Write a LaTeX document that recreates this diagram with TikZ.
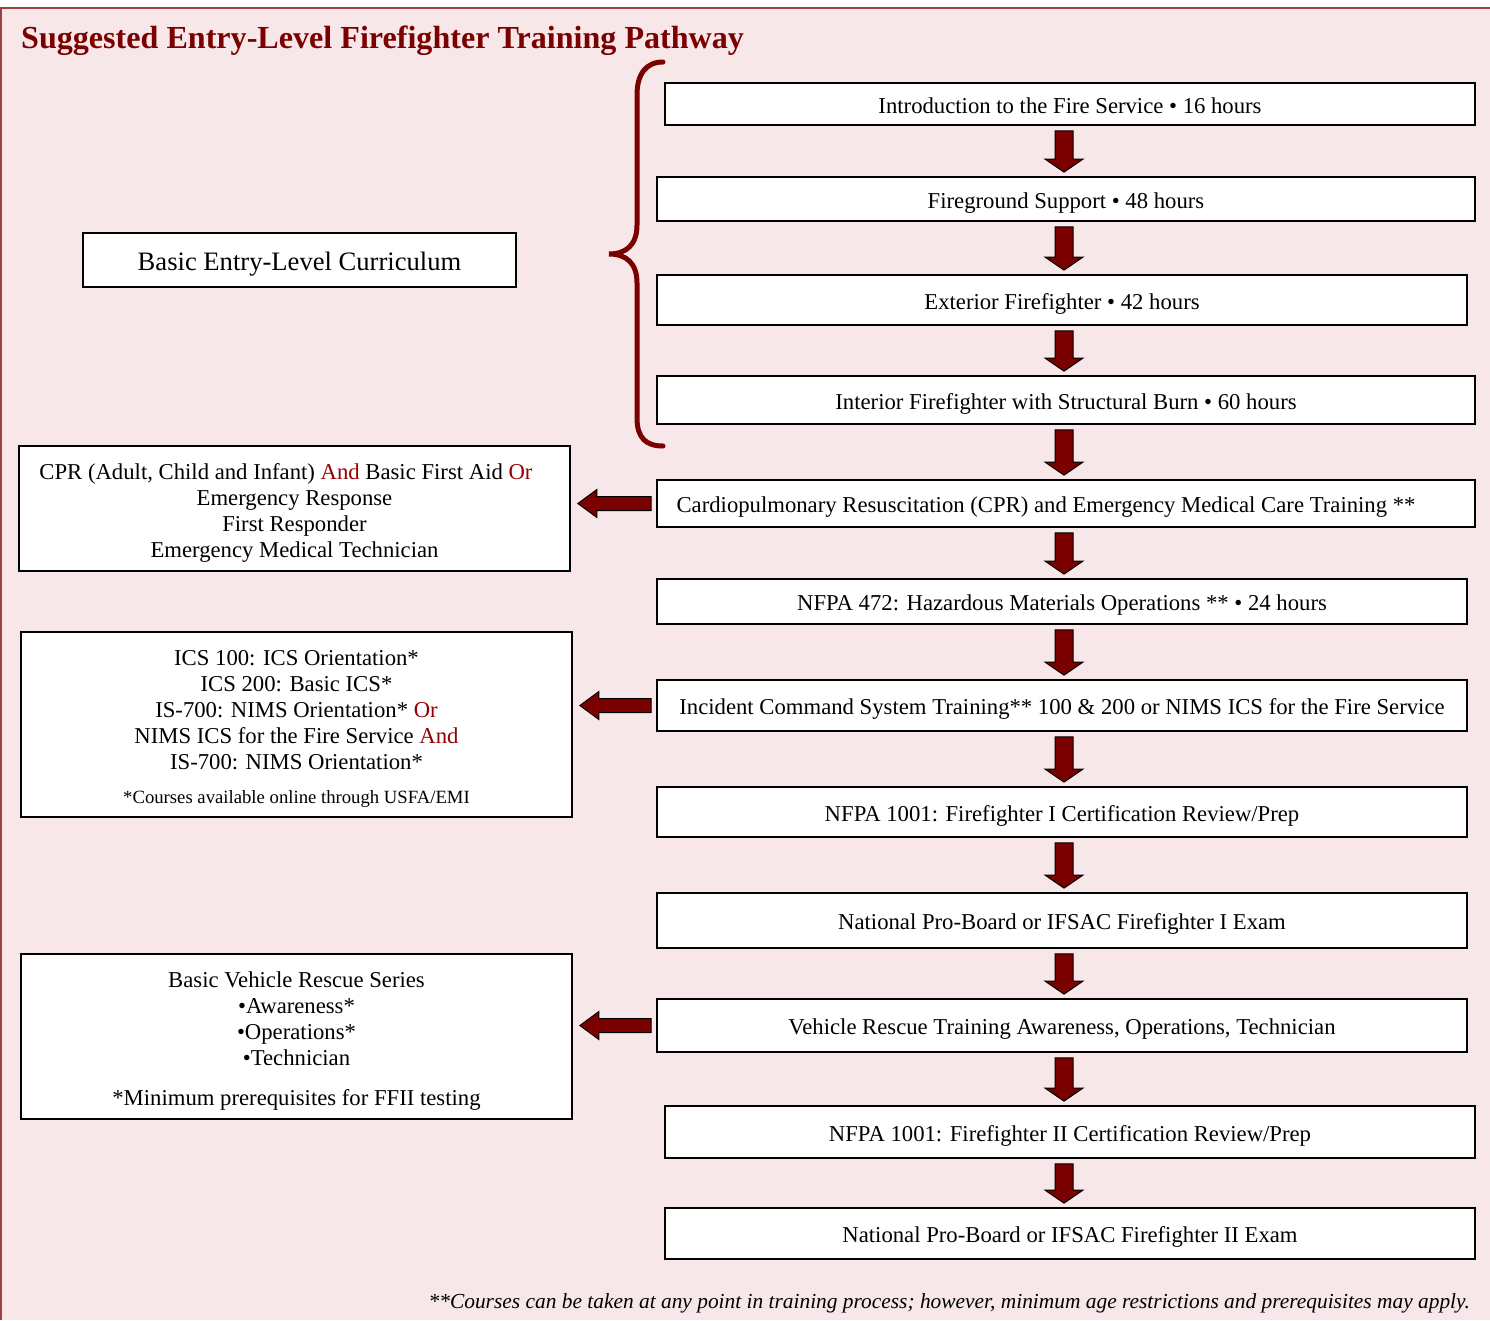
\documentclass[tikz,border=0pt]{standalone}
\usepackage{fontspec}
\setmainfont{Liberation Serif}
\usetikzlibrary{calc}
\definecolor{bg}{HTML}{F7E7E8}
\definecolor{framec}{HTML}{A04040}
\definecolor{dred}{HTML}{7B0000}
\definecolor{tred}{HTML}{960000}
\newcommand\rd[1]{\textcolor{tred}{#1}}
\newcommand\tstr{\rule{0pt}{24pt}}
\newcommand\bstr{\rule[-5pt]{0pt}{5pt}}
\newcommand\fb[7][]{\node[fbox,#1,minimum width={#5-#3},minimum height={#6-#4}] (#2) at ({(#3+#5)/2},{(#4+#6)/2}) {#7};}
\newcommand\darr[2]{\path[arr] let \p1=(#1.south), \p2=(#2.north) in
  (1055pt,\y1-5pt) -- (1073pt,\y1-5pt) -- (1073pt,\y2+17pt) -- (1083pt,\y2+17pt) --
  (1064pt,\y2+4pt) -- (1045pt,\y2+17pt) -- (1055pt,\y2+17pt) -- cycle;}
\newcommand\larr[2]{\path[arr] let \p1=(#1.west), \p2=(#2.east) in
  (\x1-5pt,\y1+7pt) -- (\x2+26pt,\y1+7pt) -- (\x2+26pt,\y1+14pt) -- (\x2+7pt,\y1) --
  (\x2+26pt,\y1-14pt) -- (\x2+26pt,\y1-7pt) -- (\x1-5pt,\y1-7pt) -- cycle;}
\begin{document}
\begin{tikzpicture}[x=1pt,y=-1pt,
  fbox/.style={draw=black,line width=1.8pt,fill=white,inner sep=0pt,font=\fontsize{22.7}{26}\selectfont},
  mbox/.style={fbox,text height=18pt,text depth=0pt},
  lbox/.style={fbox,align=center},
  arr/.style={fill=dred,draw=black,line width=1pt,line join=miter},
  bracec/.style={draw=dred,line width=5pt,line cap=round}]
\useasboundingbox (0,0) rectangle (1490,1320);
\fill[white] (0,0) rectangle (1490,1320);
\fill[bg] (1,8) rectangle (1490,1320);
\draw[framec,line width=2.5pt] (1.2,1320) -- (1.2,8) -- (1490,8);

\node[anchor=base west,inner sep=0pt,text=dred,font=\bfseries\fontsize{32.1}{38}\selectfont] (title) at (21,48) {Suggested Entry-Level Firefighter Training Pathway};

% main column
\fb[mbox]{b1}{665}{83}{1475}{125}{Introduction to the Fire Service • 16 hours}
\fb[mbox]{b2}{657}{177}{1475}{221}{Fireground Support • 48 hours}
\fb[mbox]{b3}{657}{275}{1467}{325}{Exterior Firefighter • 42 hours}
\fb[mbox]{b4}{657}{376}{1475}{424}{Interior Firefighter with Structural Burn • 60 hours}
\fb[mbox]{b5}{657}{480}{1475}{527}{Cardiopulmonary Resuscitation (CPR) and Emergency Medical Care Training **\kern40pt}
\fb[mbox]{b6}{657}{579}{1467}{624}{NFPA 472: Hazardous Materials Operations ** • 24 hours}
\fb[mbox]{b7}{657}{680}{1467}{731}{Incident Command System Training** 100 \& 200 or NIMS ICS for the Fire Service}
\fb[mbox]{b8}{657}{787}{1467}{837}{NFPA 1001: Firefighter I Certification Review/Prep}
\fb[mbox]{b9}{657}{893}{1467}{948}{National Pro-Board or IFSAC Firefighter I Exam}
\fb[mbox]{b10}{657}{999}{1467}{1052}{Vehicle Rescue Training Awareness, Operations, Technician}
\fb[mbox]{b11}{665}{1106}{1475}{1158}{NFPA 1001: Firefighter II Certification Review/Prep}
\fb[mbox]{b12}{665}{1208}{1475}{1259}{National Pro-Board or IFSAC Firefighter II Exam}

% left column
\fb[lbox]{basic}{83}{233}{516}{287}{\fontsize{26.6}{30}\selectfont\rule{0pt}{26pt}Basic Entry-Level Curriculum}
\fb[lbox]{cprL}{19}{446}{570}{571}{\tstr CPR (Adult, Child and Infant) \rd{And} Basic First Aid \rd{Or}\kern17pt\\Emergency Response\\First Responder\\Emergency Medical Technician\bstr}
\fb[lbox]{icsL}{21}{632}{572}{817}{\tstr ICS 100: ICS Orientation*\\ICS 200: Basic ICS*\\IS-700: NIMS Orientation* \rd{Or}\\NIMS ICS for the Fire Service \rd{And}\\IS-700: NIMS Orientation*\\[8pt]{\fontsize{18.7}{20}\selectfont *Courses available online through USFA/EMI\bstr}}
\fb[lbox]{vehL}{21}{954}{572}{1119}{\tstr Basic Vehicle Rescue Series\\•Awareness*\\•Operations*\\•Technician\\[14pt]*Minimum prerequisites for FFII testing\bstr}

% arrows
\darr{b1}{b2}
\darr{b2}{b3}
\darr{b3}{b4}
\darr{b4}{b5}
\darr{b5}{b6}
\darr{b6}{b7}
\darr{b7}{b8}
\darr{b8}{b9}
\darr{b9}{b10}
\darr{b10}{b11}
\darr{b11}{b12}
\larr{b5}{cprL}
\larr{b7}{icsL}
\larr{b10}{vehL}

% brace
\draw[bracec] (663,62) .. controls (646,62) and (637,74) .. (637,95) -- (637,225)
  .. controls (637,245) and (626,254) .. (609,254)
  .. controls (626,254) and (637,263) .. (637,283) -- (637,418)
  .. controls (637,438) and (646,446) .. (663,446);

\node[anchor=base east,inner sep=0pt,font=\itshape\fontsize{21.4}{24}\selectfont] (note) at (1470,1308) {**Courses can be taken at any point in training process; however, minimum age restrictions and prerequisites may apply.};
\end{tikzpicture}
\end{document}
